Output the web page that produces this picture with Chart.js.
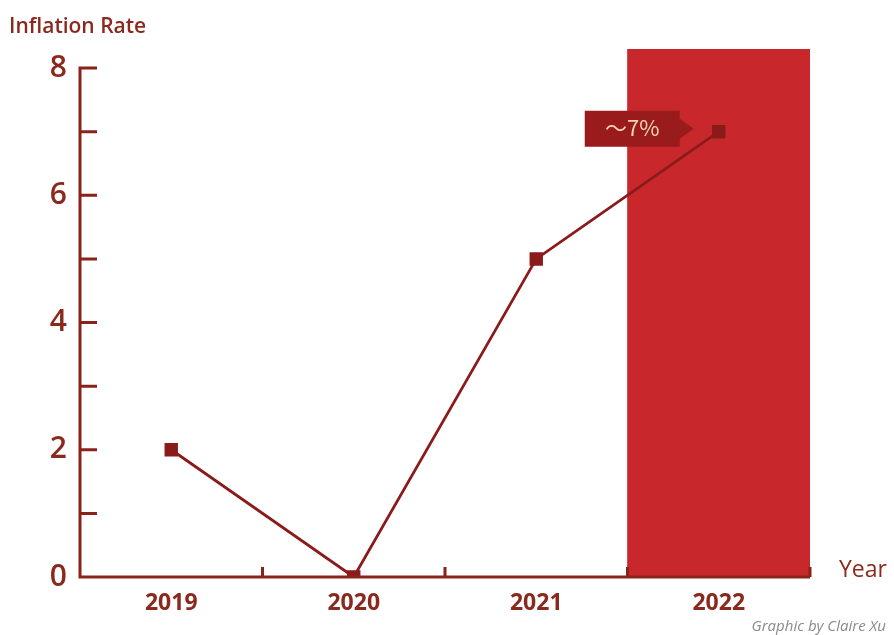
<!DOCTYPE html>
<html><head><meta charset="utf-8">
<script src="https://cdn.jsdelivr.net/npm/chart.js@4"></script>
<style>html,body{margin:0;padding:0;background:#fff}#wrap{width:894px;height:635px}</style>
</head><body><div id="wrap"><canvas id="c" width="894" height="635"></canvas></div>
<script>
const years = ['2019','2020','2021','2022'];
const inflation = [2, 0, 5, 7];
const highlight = [null, null, null, 8.3];
const yTickValues = [0,1,2,3,4,5,6,7,8];
const yLabelled = [0,2,4,6,8];
const calloutText = '～7%';
const calloutIndex = 3;

const AX = '#8a2219';
const TXT = '#8a2a1e';

const axesPlugin = {
  id: 'axesPlugin',
  afterDatasetsDraw(chart) {
    const ctx = chart.ctx, xs = chart.scales.x, ys = chart.scales.y;
    const x0 = chart.chartArea.left, x1 = chart.chartArea.right;
    const yb = ys.getPixelForValue(0), yt = ys.getPixelForValue(8);
    ctx.save();
    ctx.strokeStyle = AX; ctx.lineWidth = 3; ctx.lineCap = 'butt';
    ctx.beginPath();
    ctx.moveTo(x0, yt - 1.5); ctx.lineTo(x0, yb + 1.5);
    ctx.moveTo(x0 - 1.5, yb); ctx.lineTo(x1, yb);
    yTickValues.forEach(v => { const y = ys.getPixelForValue(v); ctx.moveTo(x0, y); ctx.lineTo(x0 + 17, y); });
    for (let i = 1; i <= years.length; i++) {
      const x = x0 + (x1 - x0) * i / years.length;
      ctx.moveTo(x, yb); ctx.lineTo(x, yb - 10);
    }
    ctx.stroke();
    ctx.restore();
  },
  afterDraw(chart) {
    const ctx = chart.ctx, xs = chart.scales.x, ys = chart.scales.y;
    ctx.save();
    const px = xs.getPixelForValue(calloutIndex), py = ys.getPixelForValue(inflation[calloutIndex]);
    const r = px - 39, l = r - 95, cy = py - 3, h = 36;
    ctx.fillStyle = '#9a1b1c';
    ctx.beginPath();
    ctx.moveTo(l, cy - h/2); ctx.lineTo(r, cy - h/2); ctx.lineTo(r, cy - 10);
    ctx.lineTo(px - 25, cy); ctx.lineTo(r, cy + 10); ctx.lineTo(r, cy + h/2);
    ctx.lineTo(l, cy + h/2); ctx.closePath(); ctx.fill();
    ctx.fillStyle = '#f3d2b4'; ctx.font = '22px "Noto Sans CJK SC"';
    ctx.textAlign = 'center'; ctx.textBaseline = 'middle';
    ctx.fillText(calloutText, (l + r) / 2, cy - 1);
    ctx.fillStyle = TXT; ctx.textAlign = 'left'; ctx.textBaseline = 'alphabetic';
    ctx.font = '600 21px "Open Sans"';
    ctx.fillText('Inflation Rate', 9, 33);
    ctx.font = '23px "Open Sans"';
    ctx.fillText('Year', 839, 577);
    ctx.fillStyle = '#8a8a8a'; ctx.font = 'italic 15px "Open Sans"';
    ctx.textAlign = 'right';
    ctx.fillText('Graphic by Claire Xu', 886, 631);
    ctx.restore();
  }
};

new Chart(document.getElementById('c'), {
  data: {
    labels: years,
    datasets: [
      { type: 'line', data: inflation, borderColor: '#8b1b1b', backgroundColor: '#8b1b1b',
        borderWidth: 2.8, pointStyle: 'rect', pointRadius: 7.5, pointHoverRadius: 7.5, tension: 0, order: 1 },
      { type: 'bar', data: highlight, backgroundColor: '#c8282b', borderWidth: 0,
        barPercentage: 1, categoryPercentage: 1, order: 2 }
    ]
  },
  options: {
    responsive: false, animation: false,
    layout: { padding: { top: 49, right: 84, left: 0, bottom: 0 } },
    plugins: { legend: { display: false }, tooltip: { enabled: false } },
    scales: {
      x: {
        grid: { display: false, drawTicks: false }, border: { display: false },
        ticks: { color: TXT, font: { family: 'Open Sans', size: 23, weight: 'bold' }, padding: 13 },
        afterFit(s) { s.height = 58; }
      },
      y: {
        min: 0, max: 8.3,
        grid: { display: false, drawTicks: false }, border: { display: false },
        afterBuildTicks(s) { s.ticks = yTickValues.map(v => ({ value: v })); },
        ticks: { color: TXT, font: { family: 'Open Sans', size: 30, weight: '600' }, padding: 13,
          autoSkip: false,
          callback: v => yLabelled.includes(v) ? String(v) : '' },
        afterFit(s) { s.width = 80; }
      }
    }
  },
  plugins: [axesPlugin]
});
</script>
</body></html>
